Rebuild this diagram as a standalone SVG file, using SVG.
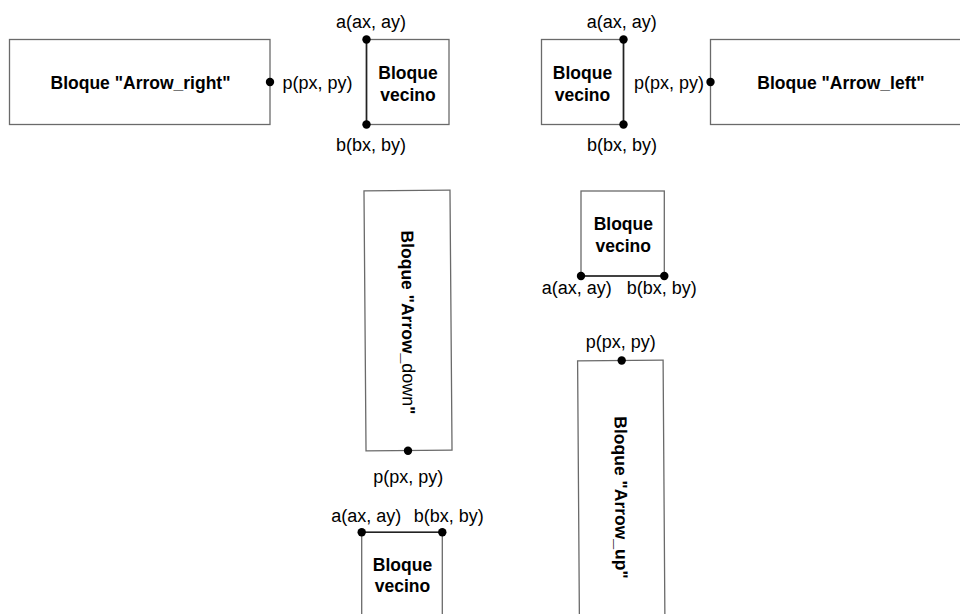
<svg xmlns="http://www.w3.org/2000/svg" width="960" height="614" viewBox="0 0 960 614">
<style>
text{font-family:"Liberation Sans",Arial,Helvetica,sans-serif;fill:#000}
.b{font-weight:bold;font-size:17.5px}
.r{font-size:18px}
.m{text-anchor:middle}
.box{fill:#fff;stroke:#6a6a6a;stroke-width:1.3}
.edge{stroke:#222;stroke-width:1.6;fill:none}
.dot{fill:#000}
</style>
<rect width="960" height="614" fill="#fff"/>
<g id="arrow-right">
<rect class="box" x="9.5" y="39.5" width="260.5" height="85"/>
<text class="b m" x="140.5" y="89">Bloque "Arrow_right"</text>
<circle class="dot" cx="270" cy="82" r="4.2"/>
<text class="r" x="282.5" y="89">p(px, py)</text>
</g>
<g id="vecino-right">
<rect class="box" x="366.5" y="39.5" width="82.5" height="85"/>
<line class="edge" x1="366.5" y1="39.5" x2="366.5" y2="124.5"/>
<circle class="dot" cx="366.5" cy="39.5" r="4.2"/>
<circle class="dot" cx="366.5" cy="124.5" r="4.2"/>
<text class="b m" x="408" y="79">Bloque</text>
<text class="b m" x="408" y="100.5">vecino</text>
<text class="r m" x="371" y="28">a(ax, ay)</text>
<text class="r m" x="371" y="150.5">b(bx, by)</text>
</g>
<g id="vecino-left">
<rect class="box" x="541.5" y="39.5" width="82" height="85"/>
<line class="edge" x1="623.5" y1="39.5" x2="623.5" y2="124.5"/>
<circle class="dot" cx="623.5" cy="39.5" r="4.2"/>
<circle class="dot" cx="623.5" cy="124.5" r="4.2"/>
<text class="b m" x="582.5" y="79">Bloque</text>
<text class="b m" x="582.5" y="100.5">vecino</text>
<text class="r m" x="621.7" y="28">a(ax, ay)</text>
<text class="r m" x="622" y="150.5">b(bx, by)</text>
</g>
<g id="arrow-left">
<rect class="box" x="710.5" y="39.5" width="260" height="85"/>
<text class="b m" x="841" y="89">Bloque "Arrow_left"</text>
<circle class="dot" cx="710.5" cy="82" r="4.2"/>
<text class="r" x="704" y="89" text-anchor="end">p(px, py)</text>
</g>
<g id="arrow-down">
<g transform="rotate(-0.45 408 320)">
<rect class="box" x="365" y="190.5" width="86" height="260"/>
<text class="b" transform="translate(408.5 322.5) rotate(90)" text-anchor="middle" y="6.5">Bloque "Arrow_<tspan font-weight="normal" font-size="18px">down</tspan>"</text>
</g>
<circle class="dot" cx="408" cy="450.7" r="4.2"/>
<text class="r m" x="408.3" y="483.3">p(px, py)</text>
</g>
<g id="vecino-down">
<rect class="box" x="361.7" y="532.3" width="80.6" height="100"/>
<line class="edge" x1="361.7" y1="532.3" x2="442.3" y2="532.3"/>
<circle class="dot" cx="361.7" cy="532.3" r="4.2"/>
<circle class="dot" cx="442.3" cy="532.3" r="4.2"/>
<text class="b m" x="402.5" y="570.7">Bloque</text>
<text class="b m" x="402.5" y="592">vecino</text>
<text class="r m" x="366.2" y="521.7">a(ax, ay)</text>
<text class="r m" x="448.7" y="521.7">b(bx, by)</text>
</g>
<g id="vecino-up">
<rect class="box" x="581" y="191" width="83.3" height="85"/>
<line class="edge" x1="581" y1="276" x2="664.3" y2="276"/>
<circle class="dot" cx="581" cy="276" r="4.2"/>
<circle class="dot" cx="664.3" cy="276" r="4.2"/>
<text class="b m" x="623.3" y="230">Bloque</text>
<text class="b m" x="623.3" y="251.5">vecino</text>
<text class="r m" x="576.7" y="293.5">a(ax, ay)</text>
<text class="r m" x="661.7" y="293.5">b(bx, by)</text>
</g>
<g id="arrow-up">
<g transform="rotate(-0.4 621 490)">
<rect class="box" x="578.5" y="360.5" width="85.5" height="270"/>
<text class="b" transform="translate(621.5 497.5) rotate(90)" text-anchor="middle" y="6.5">Bloque "Arrow_up"</text>
</g>
<circle class="dot" cx="621.7" cy="360.5" r="4.2"/>
<text class="r m" x="620.8" y="348.3">p(px, py)</text>
</g>
</svg>
